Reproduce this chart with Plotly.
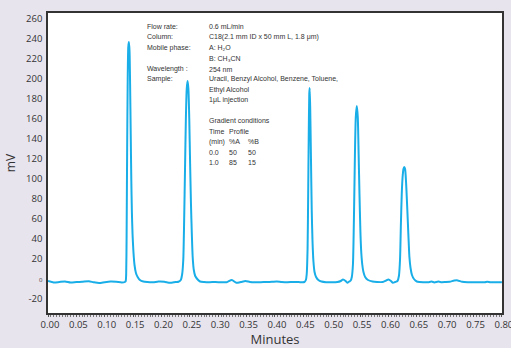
import plotly.graph_objects as go

# Chromatogram trace (time in minutes, signal in mV)
time_min = [
    0.000, 0.010, 0.020, 0.030, 0.040, 0.050, 0.060, 0.072, 0.080, 0.090, 0.100, 0.110, 0.120, 0.130, 0.1355,
    0.1370, 0.1378, 0.1385, 0.1395, 0.1405, 0.1415, 0.1426, 0.1437, 0.1447, 0.1458, 0.1468, 0.1478, 0.1490,
    0.1505, 0.1525, 0.1550, 0.1580, 0.1620, 0.1680, 0.175,
    0.185, 0.195, 0.205, 0.215, 0.225, 0.230, 0.2340, 0.2365, 0.2385, 0.2400, 0.2415, 0.2430, 0.2445, 0.2460,
    0.2475, 0.2490, 0.2505, 0.2520, 0.2535, 0.2550, 0.2570, 0.2595, 0.2630, 0.2680, 0.275,
    0.285, 0.295, 0.305, 0.315, 0.324, 0.332, 0.340, 0.348, 0.356, 0.365, 0.375, 0.385, 0.395, 0.403, 0.412,
    0.422, 0.432, 0.442, 0.4520, 0.4545, 0.4560, 0.4575, 0.4585, 0.4595, 0.4605, 0.4612, 0.4622, 0.4635,
    0.4648, 0.4662, 0.4678, 0.4698, 0.4725, 0.4765, 0.4820,
    0.490, 0.500, 0.510, 0.516, 0.520, 0.5245, 0.5275, 0.5310, 0.5335, 0.5355, 0.5375, 0.5395, 0.5410, 0.5425,
    0.5443, 0.5460, 0.5475, 0.5490, 0.5505, 0.5520, 0.5540, 0.5560, 0.5590, 0.5640, 0.5720,
    0.580, 0.590, 0.596, 0.600, 0.6045, 0.6080, 0.6120, 0.6160, 0.6185, 0.6205, 0.6220, 0.6235, 0.6250, 0.6265,
    0.6280, 0.6294, 0.6310, 0.6325, 0.6340, 0.6355, 0.6370, 0.6390, 0.6415, 0.6450, 0.6500, 0.6550, 0.6610,
    0.670, 0.676, 0.681, 0.688, 0.694, 0.700, 0.708, 0.716, 0.722, 0.730, 0.740, 0.750, 0.760, 0.770, 0.774,
    0.780, 0.790, 0.800,
]
signal_mv = [
    -2.0, -3.5, -3.0, -2.5, -3.5, -3.0, -2.8, -2.3, -3.2, -4.0, -3.2, -2.6, -2.8, -3.5, -3.0,
    -2.0, 5, 40, 130, 200, 232, 237, 228, 195, 145, 100, 68, 45,
    28, 14, 6, 2, -1, -2.5, -3.0,
    -3.2, -2.6, -2.8, -3.8, -3.0, -2.8, -1, 5, 20, 60, 110, 160, 190, 198,
    190, 160, 115, 75, 45, 22, 9, 3, 0, -2.5, -3.0,
    -3.2, -3.0, -3.3, -3.2, -1.0, -3.8, -3.0, -2.0, -3.0, -3.3, -3.2, -3.0, -2.8, -2.5, -3.0,
    -3.2, -3.0, -3.1, -3.0, -1, 5, 30, 80, 140, 185, 191, 170, 120,
    70, 38, 18, 7, 2, -1, -2.5,
    -3.2, -3.3, -3.0, -2.0, -0.5, -2.0, -3.8, -2.5, -1.5, 2, 15, 70, 125, 162,
    173, 162, 125, 85, 50, 28, 14, 7, 2, -1, -2.5,
    -3.0, -3.0, -1.5, -0.5, -2.0, -3.8, -3.0, -2.0, 3, 20, 55, 85, 102, 110,
    112, 110, 98, 80, 60, 40, 22, 11, 4, 0, -2.5, -3.0, -3.2,
    -3.2, -2.6, -3.4, -2.6, -3.2, -3.0, -2.7, -1.6, -1.4, -2.8, -3.2, -3.3, -3.3, -3.2, -2.8,
    -3.3, -3.3, -3.3,
]

x_ticks = [0.00, 0.05, 0.10, 0.15, 0.20, 0.25, 0.30, 0.35, 0.40, 0.45, 0.50, 0.55, 0.60, 0.65, 0.70, 0.75, 0.80]
y_ticks = [260, 240, 220, 200, 180, 160, 140, 120, 100, 80, 60, 40, 20, 0, -20]
y_ticktext = [str(v) if v != 0 else "<span style='font-size:6px'>0</span>" for v in y_ticks]

info_labels = ["Flow rate:", "Column:", "Mobile phase:", "", "Wavelength :", "Sample:"]
info_values = ["0.6 mL/min", "C18(2.1 mm ID x 50 mm L, 1.8 μm)", "A: H₂O", "B: CH₃CN", "254 nm",
               "Uracil, Benzyl Alcohol, Benzene, Toluene,", "Ethyl Alcohol", "1μL injection"]
gradient_title = "Gradient conditions"
gradient_header = [["Time", "Profile", ""], ["(min)", "%A", "%B"]]
gradient_rows = [["0.0", "50", "50"], ["1.0", "85", "15"]]

fig = go.Figure()
fig.add_trace(go.Scatter(
    x=time_min, y=signal_mv, mode="lines",
    line=dict(color="#19aee8", width=2, shape="spline", smoothing=0.6),
    hoverinfo="x+y", showlegend=False,
))

L, R, T, B = 47.5, 9, 13, 35
W, H = 511, 348
pw, ph = W - L - R, H - T - B


def px(xp):
    return (xp - L) / pw


def py(yp):
    return (H - B - yp) / ph


font_txt = dict(family="Liberation Sans, Arial, sans-serif", size=7, color="#333333")
ann = []
row_y = [26, 36.7, 47.7, 58, 69, 79.3, 90, 100]
for i, lab in enumerate(info_labels):
    if lab:
        ann.append(dict(x=px(146), y=py(row_y[i]), text=lab))
for i, val in enumerate(info_values):
    ann.append(dict(x=px(207.7), y=py(row_y[i]), text=val))
ann.append(dict(x=px(207.7), y=py(120.7), text=gradient_title))
col_x = [207.7, 227.7, 247]
table = gradient_header + gradient_rows
table_y = [131, 141.7, 152.3, 162.7]
for r, row in enumerate(table):
    for c, cell in enumerate(row):
        if cell:
            ann.append(dict(x=px(col_x[c]), y=py(table_y[r]), text=cell))
for a in ann:
    a.update(xref="paper", yref="paper", xanchor="left", yanchor="middle",
             showarrow=False, font=font_txt, borderpad=0)

fig.update_layout(
    width=W, height=H,
    margin=dict(l=L, r=R, t=T, b=B, autoexpand=False),
    paper_bgcolor="#e8e4ee",
    plot_bgcolor="#ffffff",
    annotations=ann,
    font=dict(family="Open Sans, Noto Sans, sans-serif", color="#333333"),
)
fig.update_xaxes(
    range=[0, 0.8002], tickvals=x_ticks, tickformat=".2f", automargin=False,
    showline=True, mirror=True, linecolor="#333333", linewidth=1.5,
    showgrid=False, zeroline=False,
    ticks="outside", ticklen=2, tickcolor="#555555", tickwidth=1,
    minor=dict(dtick=0.005, ticks="outside", ticklen=2, tickcolor="#777777", tickwidth=1),
    tickfont=dict(size=9.5, color="#333333"), ticklabelshift=2, ticklabeloverflow="allow",
    title=dict(text="Minutes", font=dict(size=13, color="#333333"), standoff=1),
)
fig.update_yaxes(
    range=[-34, 266], tickvals=y_ticks, ticktext=y_ticktext, automargin=False,
    showline=True, mirror=True, linecolor="#333333", linewidth=1.5,
    showgrid=False, zeroline=False, ticks="",
    tickfont=dict(size=9.5, color="#333333"), ticklabelstandoff=2,
    title=dict(text="mV", font=dict(size=12, color="#333333"), standoff=8),
)

fig.write_html(
    "out.html",
    config={"displayModeBar": False},
    post_script="document.body.style.margin='0';document.body.style.overflow='hidden';"
                "document.body.style.background='#e8e4ee';",
)
